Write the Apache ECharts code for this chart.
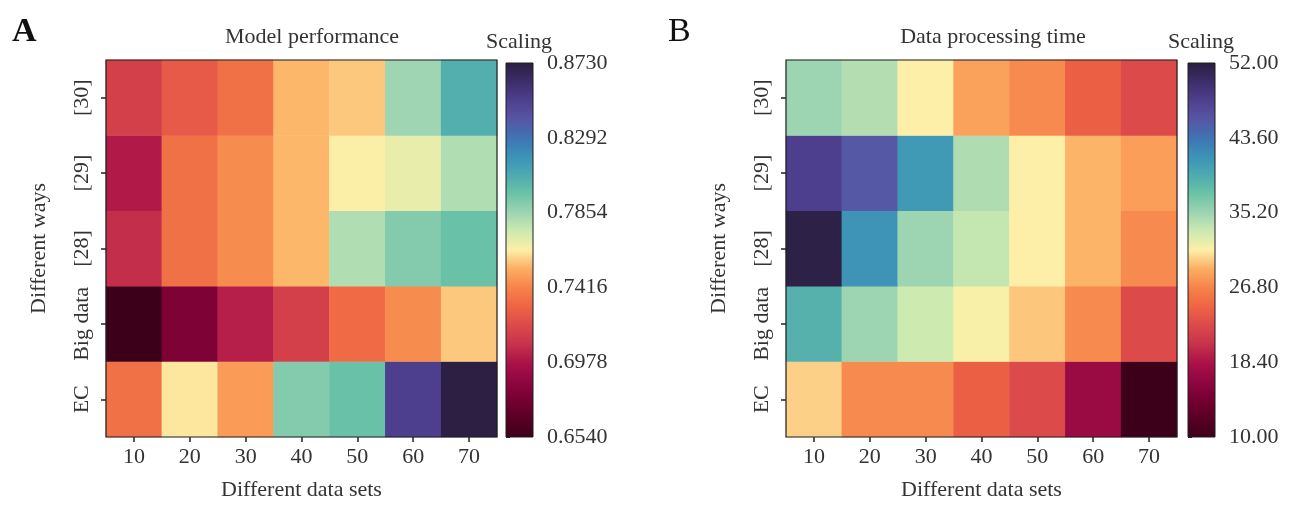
<!DOCTYPE html>
<html><head><meta charset="utf-8">
<script src="https://cdn.jsdelivr.net/npm/echarts@6/dist/echarts.min.js"></script>
<style>html,body{margin:0;padding:0;background:#fff}#c{width:1300px;height:506px}</style>
</head><body><div id="c"></div>
<script>
// ---------- data ----------
const dataSets = ['10', '20', '30', '40', '50', '60', '70'];
const ways = ['EC', 'Big data', '[28]', '[29]', '[30]'];   // bottom to top

// Panel A: Model performance
const perfEC      = [0.735, 0.762, 0.748, 0.791, 0.797, 0.851, 0.872];
const perfBigData = [0.654, 0.680, 0.702, 0.715, 0.733, 0.744, 0.757];
const perf28      = [0.707, 0.735, 0.744, 0.754, 0.781, 0.791, 0.797];
const perf29      = [0.700, 0.735, 0.744, 0.754, 0.764, 0.768, 0.781];
const perf30      = [0.715, 0.726, 0.735, 0.754, 0.757, 0.785, 0.805];
const perfTicks   = [0.6540, 0.6978, 0.7416, 0.7854, 0.8292, 0.8730];

// Panel B: Data processing time
const timeEC      = [30.0, 27.2, 27.2, 24.3, 22.6, 17.1, 10.0];
const timeBigData = [38.8, 35.2, 33.1, 31.2, 29.7, 27.2, 22.6];
const time28      = [51.6, 41.3, 35.2, 33.5, 31.0, 29.1, 27.2];
const time29      = [47.8, 45.5, 40.9, 34.4, 31.0, 29.1, 28.1];
const time30      = [35.2, 34.2, 31.0, 28.3, 27.2, 24.3, 22.6];
const timeTicks   = [10.00, 18.40, 26.80, 35.20, 43.60, 52.00];

// ---------- styles ----------
const FONT = '"Liberation Serif", "DejaVu Serif", serif';
const TXT = '#333';
const FS = 22;
const cmap = ['#3d001a', '#580024', '#750030', '#900640', '#ab1248', '#c8334b', '#dc4a4a',
  '#ee6544', '#f6834a', '#fcae62', '#fdefa8', '#cdeab0', '#9dd4b2', '#6bc3a6', '#4daaaf',
  '#3b92b8', '#3f73b3', '#5755a4', '#4e3f8e', '#3c2d6a', '#2a1e3f'];

function toCells(rows) {
  const out = [];
  rows.forEach((row, r) => row.forEach((v, c) => out.push([c, r, v])));
  return out;
}
const perfCells = toCells([perfEC, perfBigData, perf28, perf29, perf30]);
const timeCells = toCells([timeEC, timeBigData, time28, time29, time30]);

const PLOT_W = 391, PLOT_H = 377, PLOT_T = 60;
const panels = [
  { plotL: 106, cbL: 506 },
  { plotL: 786, cbL: 1188 }
];
const CB_T = 63, CB_W = 27, CB_H = 374;

const grids = [], xAxes = [], yAxes = [];
panels.forEach((p) => {
  grids.push({ left: p.plotL, top: PLOT_T, width: PLOT_W, height: PLOT_H, show: true,
    borderColor: '#1e1e1e', borderWidth: 1.2, backgroundColor: 'transparent', z: 5 });
  grids.push({ left: p.cbL, top: CB_T, width: CB_W, height: CB_H, show: false });
});

function heatAxes(gi) {
  xAxes.push({ type: 'category', gridIndex: gi, data: dataSets,
    axisLine: { show: false },
    axisTick: { show: true, alignWithLabel: true, length: 5, lineStyle: { color: '#222', width: 1.5 } },
    axisLabel: { fontFamily: FONT, fontSize: FS, color: TXT, margin: 9, interval: 0 },
    splitLine: { show: false },
    name: 'Different data sets', nameLocation: 'middle', nameGap: 42,
    nameTextStyle: { fontFamily: FONT, fontSize: FS, color: TXT } });
  yAxes.push({ type: 'category', gridIndex: gi, data: ways,
    axisLine: { show: false },
    axisTick: { show: true, alignWithLabel: true, length: 5, lineStyle: { color: '#222', width: 1.5 } },
    axisLabel: { fontFamily: FONT, fontSize: FS, color: TXT, rotate: 90, margin: 13, interval: 0, hideOverlap: false },
    splitLine: { show: false },
    name: 'Different ways', nameLocation: 'middle', nameGap: 56,
    nameTextStyle: { fontFamily: FONT, fontSize: FS, color: TXT } });
}
function cbAxes(gi, ticks, dec) {
  xAxes.push({ type: 'value', gridIndex: gi, show: false, min: 0, max: 1 });
  yAxes.push({ type: 'value', gridIndex: gi, position: 'right',
    min: ticks[0], max: ticks[ticks.length - 1],
    axisLine: { show: false },
    axisTick: { show: true, length: 4, customValues: ticks, lineStyle: { color: '#222' } },
    axisLabel: { fontFamily: FONT, fontSize: FS, color: TXT, margin: 14, customValues: ticks,
      formatter: (v) => Number(v).toFixed(dec) },
    splitLine: { show: false } });
}
heatAxes(0); cbAxes(1, perfTicks, 4);
heatAxes(2); cbAxes(3, timeTicks, 2);

function cbGradient() {
  return new echarts.graphic.LinearGradient(0, 1, 0, 0,
    cmap.map((c, i) => ({ offset: i / (cmap.length - 1), color: c })));
}

const option = {
  backgroundColor: '#fff',
  animation: false,
  grid: grids,
  xAxis: xAxes,
  yAxis: yAxes,
  visualMap: [
    { type: 'continuous', seriesIndex: 0, dimension: 2, min: perfTicks[0], max: perfTicks[5],
      inRange: { color: cmap }, show: false },
    { type: 'continuous', seriesIndex: 1, dimension: 2, min: timeTicks[0], max: timeTicks[5],
      inRange: { color: cmap }, show: false }
  ],
  series: [
    { type: 'heatmap', xAxisIndex: 0, yAxisIndex: 0, data: perfCells, emphasis: { disabled: true }, z: 2 },
    { type: 'heatmap', xAxisIndex: 2, yAxisIndex: 2, data: timeCells, emphasis: { disabled: true }, z: 2 }
  ],
  graphic: [
    { type: 'rect', shape: { x: panels[0].cbL, y: CB_T, width: CB_W, height: CB_H },
      style: { fill: cbGradient(), stroke: '#1e1e1e', lineWidth: 1 }, z: 10 },
    { type: 'rect', shape: { x: panels[1].cbL, y: CB_T, width: CB_W, height: CB_H },
      style: { fill: cbGradient(), stroke: '#1e1e1e', lineWidth: 1 }, z: 10 },
    { type: 'text', x: 12, y: 32, style: { text: 'A', fontFamily: FONT, fontSize: 34, fontWeight: 'bold', fill: '#111', align: 'left', verticalAlign: 'middle' } },
    { type: 'text', x: 668, y: 32, style: { text: 'B', fontFamily: FONT, fontSize: 34, fontWeight: 'normal', fill: '#111', align: 'left', verticalAlign: 'middle' } },
    { type: 'text', x: 312, y: 37, style: { text: 'Model performance', fontFamily: FONT, fontSize: FS, fill: TXT, align: 'center', verticalAlign: 'middle' } },
    { type: 'text', x: 993, y: 37, style: { text: 'Data processing time', fontFamily: FONT, fontSize: FS, fill: TXT, align: 'center', verticalAlign: 'middle' } },
    { type: 'text', x: 519, y: 42, style: { text: 'Scaling', fontFamily: FONT, fontSize: FS, fill: TXT, align: 'center', verticalAlign: 'middle' } },
    { type: 'text', x: 1201, y: 42, style: { text: 'Scaling', fontFamily: FONT, fontSize: FS, fill: TXT, align: 'center', verticalAlign: 'middle' } }
  ]
};
const chart = echarts.init(document.getElementById('c'), null, { renderer: 'canvas' });
chart.setOption(option);
</script>
</body></html>
